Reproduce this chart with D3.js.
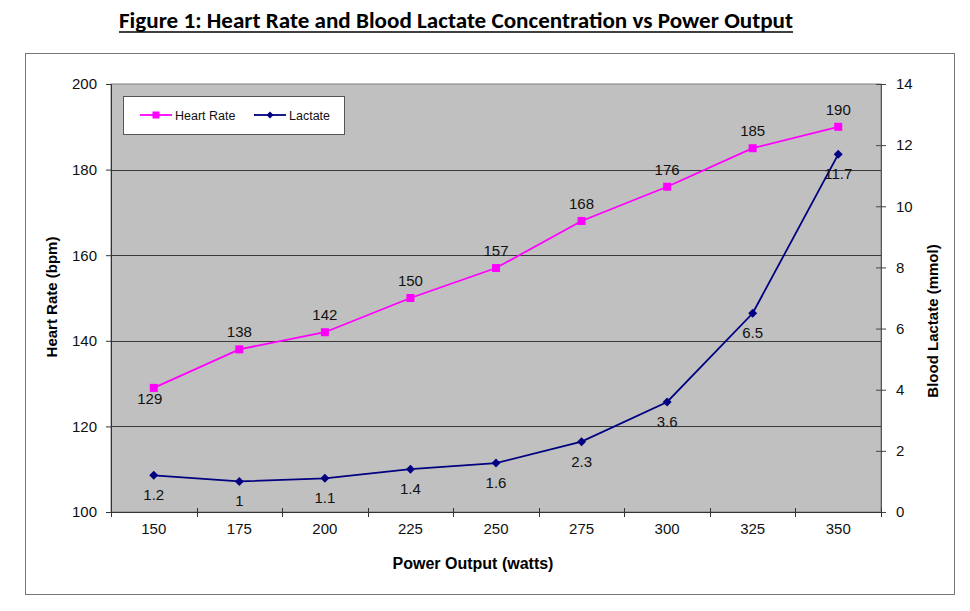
<!DOCTYPE html>
<html>
<head>
<meta charset="utf-8">
<script src="https://cdn.jsdelivr.net/npm/d3@7"></script>
<style>
  body { margin: 0; background: #fff; }
  svg { display: block; }
  text { font-family: "Liberation Sans", Arial, sans-serif; }
</style>
</head>
<body>
<svg id="chart" width="970" height="611"></svg>
<script>
// ---- data ----
const powerOutput = ["150", "175", "200", "225", "250", "275", "300", "325", "350"];
const heartRate = [129, 138, 142, 150, 157, 168, 176, 185, 190];
const lactate = [1.2, 1.0, 1.1, 1.4, 1.6, 2.3, 3.6, 6.5, 11.7];
const hrTicks = [100, 120, 140, 160, 180, 200];
const lacTicks = [0, 2, 4, 6, 8, 10, 12, 14];
const hrLabelBelow = [true, false, false, false, false, false, false, false, false];

const titleText = "Figure 1: Heart Rate and Blood Lactate Concentration vs Power Output";

// ---- layout ----
const svg = d3.select("#chart");
const plot = { left: 111, top: 84, right: 881, bottom: 512 };

// outer chart border
svg.append("rect")
  .attr("x", 25.5).attr("y", 53.5).attr("width", 929).attr("height", 541)
  .attr("fill", "#fff").attr("stroke", "#777").attr("stroke-width", 1);

// title
svg.append("text")
  .attr("x", 456).attr("y", 28)
  .attr("text-anchor", "middle")
  .style("font-family", "Carlito, Lato, 'Open Sans', sans-serif")
  .style("font-weight", "bold")
  .style("font-size", "23px")
  .attr("textLength", 674)
  .attr("lengthAdjust", "spacingAndGlyphs")
  .text(titleText);
svg.append("line")
  .attr("x1", 119).attr("x2", 793).attr("y1", 32).attr("y2", 32)
  .attr("stroke", "#000").attr("stroke-width", 1.6);

// scales
const x = d3.scaleBand().domain(powerOutput).range([plot.left, plot.right]).padding(0);
const yL = d3.scaleLinear().domain([100, 200]).range([plot.bottom, plot.top]);
const yR = d3.scaleLinear().domain([0, 14]).range([plot.bottom, plot.top]);
const cx = d => x(d) + x.bandwidth() / 2;

// plot area
svg.append("rect")
  .attr("x", plot.left).attr("y", plot.top)
  .attr("width", plot.right - plot.left).attr("height", plot.bottom - plot.top)
  .attr("fill", "#c0c0c0").attr("stroke", "#808080").attr("stroke-width", 1);

// gridlines
svg.append("g").selectAll("line")
  .data(hrTicks.filter(t => t > 100 && t < 200))
  .join("line")
  .attr("x1", plot.left).attr("x2", plot.right)
  .attr("y1", d => Math.round(yL(d)) + 0.5).attr("y2", d => Math.round(yL(d)) + 0.5)
  .attr("stroke", "#3a3a3a").attr("stroke-width", 1);

// left axis
const gL = svg.append("g")
  .attr("transform", `translate(${plot.left},0)`)
  .call(d3.axisLeft(yL).tickValues(hrTicks).tickSize(5).tickPadding(9));
gL.select(".domain").attr("stroke", "#333");
gL.selectAll(".tick line").attr("stroke", "#333");
gL.selectAll("text").style("font-size", "15px").attr("fill", "#111");

// right axis
const gR = svg.append("g")
  .attr("transform", `translate(${plot.right},0)`)
  .call(d3.axisRight(yR).tickValues(lacTicks).tickSize(5).tickPadding(10));
gR.select(".domain").attr("stroke", "#555");
gR.selectAll(".tick line").attr("x1", -5).attr("x2", 5).attr("stroke", "#444");
gR.selectAll("text").style("font-size", "15px").attr("fill", "#111");

// bottom axis
const gB = svg.append("g")
  .attr("transform", `translate(0,${plot.bottom})`)
  .call(d3.axisBottom(x).tickSize(0).tickPadding(11));
gB.select(".domain").attr("stroke", "#333");
gB.selectAll("text").style("font-size", "15px").attr("fill", "#111");
// tick marks at category boundaries (crossing)
const bounds = powerOutput.map(d => x(d)).concat([plot.right]);
gB.append("g").selectAll("line")
  .data(bounds)
  .join("line")
  .attr("x1", d => Math.round(d) + 0.5).attr("x2", d => Math.round(d) + 0.5)
  .attr("y1", -4).attr("y2", 5)
  .attr("stroke", "#333");

// axis titles
svg.append("text")
  .attr("transform", "translate(57,297) rotate(-90)")
  .attr("text-anchor", "middle")
  .style("font-weight", "bold").style("font-size", "15px")
  .text("Heart Rate (bpm)");
svg.append("text")
  .attr("transform", "translate(938,321) rotate(-90)")
  .attr("text-anchor", "middle")
  .style("font-weight", "bold").style("font-size", "15px")
  .text("Blood Lactate (mmol)");
svg.append("text")
  .attr("x", 473).attr("y", 569)
  .attr("text-anchor", "middle")
  .style("font-weight", "bold").style("font-size", "16px")
  .text("Power Output (watts)");

// series
const hrColor = "#ff00ff";
const lacColor = "#000080";
const hrData = powerOutput.map((p, i) => ({ p, v: heartRate[i], below: hrLabelBelow[i] }));
const lacData = powerOutput.map((p, i) => ({ p, v: lactate[i] }));

svg.append("path")
  .datum(hrData)
  .attr("fill", "none").attr("stroke", hrColor).attr("stroke-width", 1.8)
  .attr("d", d3.line().x(d => cx(d.p)).y(d => yL(d.v)));
svg.append("g").selectAll("rect")
  .data(hrData).join("rect")
  .attr("x", d => cx(d.p) - 4).attr("y", d => yL(d.v) - 4)
  .attr("width", 8).attr("height", 8)
  .attr("fill", hrColor);
svg.append("g").selectAll("text")
  .data(hrData).join("text")
  .attr("x", d => cx(d.p) - (d.below ? 4 : 0))
  .attr("y", d => d.below ? yL(d.v) + 16 : yL(d.v) - 12)
  .attr("text-anchor", "middle")
  .style("font-size", "15px").attr("fill", "#111")
  .text(d => d.v);

svg.append("path")
  .datum(lacData)
  .attr("fill", "none").attr("stroke", lacColor).attr("stroke-width", 1.8)
  .attr("d", d3.line().x(d => cx(d.p)).y(d => yR(d.v)));
svg.append("g").selectAll("path")
  .data(lacData).join("path")
  .attr("transform", d => `translate(${cx(d.p)},${yR(d.v)})`)
  .attr("d", "M0,-4.5L4.5,0L0,4.5L-4.5,0Z")
  .attr("fill", lacColor);
svg.append("g").selectAll("text")
  .data(lacData).join("text")
  .attr("x", d => cx(d.p))
  .attr("y", d => yR(d.v) + 25)
  .attr("text-anchor", "middle")
  .style("font-size", "15px").attr("fill", "#111")
  .text(d => d3.format("~g")(d.v));

// legend
const lg = svg.append("g");
lg.append("rect")
  .attr("x", 123.5).attr("y", 96.5).attr("width", 221).attr("height", 38)
  .attr("fill", "#fff").attr("stroke", "#555");
const legendItems = [
  { name: "Heart Rate", color: hrColor, shape: "square", x0: 140 },
  { name: "Lactate", color: lacColor, shape: "diamond", x0: 254 }
];
legendItems.forEach(it => {
  const ly = 115;
  lg.append("line")
    .attr("x1", it.x0).attr("x2", it.x0 + 32).attr("y1", ly).attr("y2", ly)
    .attr("stroke", it.color).attr("stroke-width", 1.8);
  if (it.shape === "square") {
    lg.append("rect").attr("x", it.x0 + 16 - 3.5).attr("y", ly - 3.5)
      .attr("width", 7).attr("height", 7).attr("fill", it.color);
  } else {
    lg.append("path").attr("transform", `translate(${it.x0 + 16},${ly})`)
      .attr("d", "M0,-3.5L3.5,0L0,3.5L-3.5,0Z").attr("fill", it.color);
  }
  lg.append("text")
    .attr("x", it.x0 + 35).attr("y", ly + 4.5)
    .style("font-size", "12.5px").attr("fill", "#111")
    .text(it.name);
});
</script>
</body>
</html>
